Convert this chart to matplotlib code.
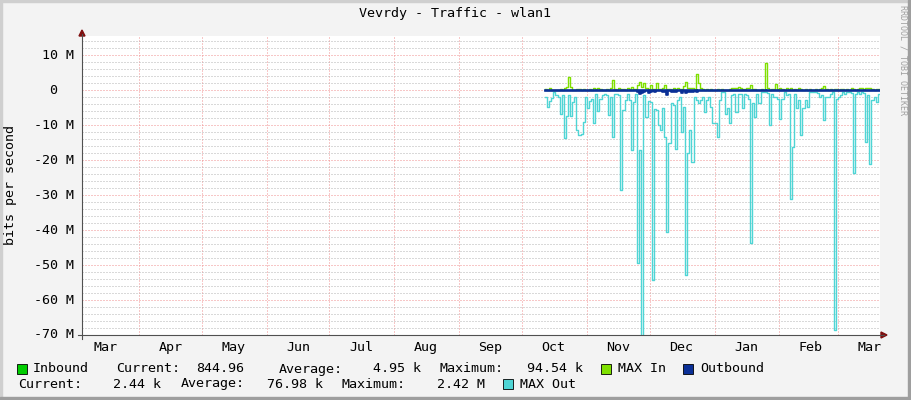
import datetime as dt
import numpy as np
import matplotlib
matplotlib.use("Agg")
import matplotlib.pyplot as plt
import matplotlib.dates as mdates
import matplotlib.transforms as mtransforms
from matplotlib.patches import Rectangle, Polygon
from matplotlib.lines import Line2D

# --- data (Mbit/s, one sample per day starting 12 Oct) ---
first_day = dt.datetime(2012, 10, 12)

max_out = [
    -2.0, -4.8, -3.0, -2.3, -0.6, -1.3, -2.0, -6.7, -1.5, -13.8,
    -7.5, -1.5, -7.5, -3.5, -2.0, -11.4, -12.9, -12.5, -9.0, -2.0,
    -5.0, -3.0, -2.5, -9.5, -1.0, -6.0, -2.4, -1.4, -1.0, -1.5,
    -7.0, -2.0, -13.3, -1.0, -1.0, -1.5, -28.6, -5.7, -2.8, -1.0,
    -2.8, -17.0, -3.3, -1.0, -49.5, -17.0, -70.5, -1.5, -7.6, -3.0,
    -3.3, -54.3, -5.5, -5.7, -10.0, -11.4, -5.2, -13.3, -40.5, -15.2,
    -3.8, -4.3, -16.7, -2.9, -1.9, -11.9, -4.8, -52.9, -18.0, -11.4,
    -20.5, -1.9, -2.9, -3.8, -2.9, -1.9, -6.2, -2.9, -1.9, -4.8,
    -9.5, -9.5, -13.3, -2.9, -0.5, -0.5, -6.7, -5.2, -9.3, -1.4,
    -1.0, -6.2, -1.0, -1.0, -5.2, -1.0, -1.4, -2.4, -43.6, -3.8,
    -7.6, -1.0, -3.8, -0.5, -0.5, -0.5, -0.8, -10.0, -1.0, -1.9,
    -1.9, -2.4, -8.1, -2.4, -0.5, -1.4, -1.0, -31.0, -16.2, -1.0,
    -5.2, -2.9, -12.9, -5.2, -2.9, -4.8, -0.5, -0.5, -0.5, -0.5,
    -0.8, -1.9, -1.4, -8.6, -1.9, -1.9, -1.0, -0.5, -68.6, -2.4,
    -1.9, -1.4, -0.5, -1.0, -0.5, -0.5, -0.8, -23.8, -1.0, -0.5,
    -1.0, -0.5, -0.8, -14.8, -1.4, -21.0, -2.9, -1.9, -3.3, -1.0,
]

max_in = [
    0.3, 0.2, 0.5, 0.2, 0.1, 0.2, 0.2, 0.3, 0.2, 0.6,
    0.8, 3.8, 0.9, 0.2, 0.1, 0.3, 0.3, 0.2, 0.4, 0.2,
    0.2, 0.3, 0.1, 0.5, 0.3, 0.5, 0.3, 0.2, 0.2, 0.3,
    0.2, 0.5, 2.9, 0.4, 0.2, 0.6, 0.3, 0.3, 0.2, 0.6,
    0.4, 0.8, 0.3, 0.3, 1.5, 2.4, 1.0, 2.2, 0.5, 0.3,
    1.4, 0.4, 0.3, 2.0, 0.4, 0.3, 0.5, 1.4, 0.4, 0.3,
    0.2, 0.5, 0.4, 0.6, 0.3, 0.4, 1.2, 2.3, 0.7, 0.5,
    0.6, 0.4, 4.6, 2.0, 0.5, 0.3, 0.2, 0.3, 0.2, 0.3,
    0.1, 0.2, 0.3, 0.2, 0.3, 0.2, 0.2, 0.2, 0.3, 0.5,
    0.5, 0.6, 0.8, 0.5, 0.3, 0.4, 0.5, 0.6, 1.4, 0.3,
    0.4, 0.2, 0.2, 0.3, 0.2, 7.8, 0.5, 0.2, 0.3, 0.3,
    1.9, 0.4, 0.6, 0.3, 0.2, 0.5, 0.3, 0.6, 0.2, 0.3,
    0.2, 0.6, 0.3, 0.2, 0.3, 0.2, 0.3, 0.2, 0.2, 0.3,
    0.2, 0.3, 0.5, 1.1, 0.4, 0.2, 0.3, 0.2, 0.4, 0.3,
    0.2, 0.4, 0.3, 0.2, 0.3, 0.2, 0.6, 0.3, 0.2, 0.3,
    0.5, 0.7, 0.4, 0.6, 0.7, 0.6, 0.3, 0.2, 0.4, 0.3,
]

outbound = [
    -0.1, -0.1, -0.2, -0.1, -0.1, -0.1, -0.1, -0.2, -0.1, -0.1,
    -0.1, -0.2, -0.1, -0.1, -0.1, -0.1, -0.2, -0.1, -0.1, -0.1,
    -0.1, -0.1, -0.1, -0.1, -0.1, -0.1, -0.1, -0.1, -0.1, -0.1,
    -0.1, -0.1, -0.2, -0.1, -0.1, -0.1, -0.3, -0.1, -0.1, -0.1,
    -0.2, -0.3, -0.1, -0.2, -0.6, -1.2, -0.8, -0.5, -0.3, -0.9,
    -0.4, -0.3, -0.6, -0.3, -0.2, -0.3, -0.5, -0.4, -1.4, -0.3,
    -0.6, -0.5, -0.4, -0.2, -0.3, -0.7, -0.3, -0.8, -0.5, -0.4,
    -0.6, -0.3, -0.4, -0.2, -0.1, -0.1, -0.1, -0.1, -0.1, -0.1,
    -0.1, -0.1, -0.2, -0.1, -0.1, -0.1, -0.1, -0.1, -0.2, -0.1,
    -0.1, -0.1, -0.1, -0.1, -0.1, -0.1, -0.1, -0.1, -0.3, -0.1,
    -0.1, -0.1, -0.1, -0.1, -0.1, -0.1, -0.1, -0.1, -0.1, -0.1,
    -0.1, -0.1, -0.2, -0.1, -0.1, -0.1, -0.1, -0.2, -0.2, -0.1,
    -0.1, -0.1, -0.2, -0.1, -0.1, -0.1, -0.1, -0.1, -0.1, -0.1,
    -0.1, -0.1, -0.1, -0.1, -0.1, -0.1, -0.1, -0.1, -0.2, -0.1,
    -0.1, -0.1, -0.1, -0.1, -0.1, -0.1, -0.1, -0.2, -0.1, -0.1,
    -0.1, -0.1, -0.1, -0.2, -0.1, -0.2, -0.1, -0.1, -0.1, -0.1,
]

inbound = [
    0.03, 0.02, 0.05, 0.02, 0.01, 0.02, 0.02, 0.03, 0.02, 0.05,
    0.06, 0.20, 0.06, 0.02, 0.01, 0.03, 0.03, 0.02, 0.03, 0.02,
    0.02, 0.03, 0.01, 0.04, 0.03, 0.04, 0.03, 0.02, 0.02, 0.03,
    0.02, 0.04, 0.15, 0.03, 0.02, 0.05, 0.03, 0.03, 0.02, 0.05,
    0.03, 0.06, 0.03, 0.03, 0.10, 0.15, 0.08, 0.12, 0.04, 0.03,
    0.09, 0.03, 0.03, 0.12, 0.03, 0.03, 0.04, 0.09, 0.03, 0.03,
    0.02, 0.04, 0.03, 0.05, 0.03, 0.03, 0.08, 0.14, 0.05, 0.04,
    0.05, 0.03, 0.25, 0.12, 0.04, 0.03, 0.02, 0.03, 0.02, 0.03,
    0.01, 0.02, 0.03, 0.02, 0.03, 0.02, 0.02, 0.02, 0.03, 0.04,
    0.04, 0.05, 0.06, 0.04, 0.03, 0.03, 0.04, 0.05, 0.09, 0.03,
    0.03, 0.02, 0.02, 0.03, 0.02, 0.40, 0.04, 0.02, 0.03, 0.03,
    0.12, 0.03, 0.05, 0.03, 0.02, 0.04, 0.03, 0.05, 0.02, 0.03,
    0.02, 0.05, 0.03, 0.02, 0.03, 0.02, 0.03, 0.02, 0.02, 0.03,
    0.02, 0.03, 0.04, 0.08, 0.03, 0.02, 0.03, 0.02, 0.03, 0.03,
    0.02, 0.03, 0.03, 0.02, 0.03, 0.02, 0.05, 0.03, 0.02, 0.03,
    0.04, 0.05, 0.03, 0.05, 0.05, 0.05, 0.03, 0.02, 0.03, 0.01,
]

y_major = [10, 0, -10, -20, -30, -40, -50, -60, -70]
y_labels = ["10 M", "0", "-10 M", "-20 M", "-30 M", "-40 M", "-50 M", "-60 M", "-70 M"]

title = "Vevrdy - Traffic - wlan1"
y_title = "bits per second"

legend_row1 = [("Inbound", "844.96", "4.95 k", "94.54 k")]
legend_row2 = [("2.44 k", "76.98 k", "2.42 M")]

c_in = "#00cc00"
c_maxin = "#7fe000"
c_out = "#0a2f96"
c_maxout = "#4fd5d5"

# --- figure ---
W, H = 911, 400
fig = plt.figure(figsize=(W / 100, H / 100), dpi=100, facecolor="#f3f3f3")
plt.rcParams["font.family"] = ["DejaVu Sans Mono"]
FS = 9.6


def px(x, y):
    return x / W, 1 - y / H


ax = fig.add_axes([82 / W, 65 / H, 798 / W, 299 / H])
ax.set_facecolor("white")
for s in ax.spines.values():
    s.set_visible(False)

x_start = dt.datetime(2012, 3, 4, 18, 30)
x_end = x_start + dt.timedelta(days=381.3)
ax.set_xlim(x_start, x_end)
ax.set_ylim(-70, 15.5)

n = len(max_out)
edges = [first_day + dt.timedelta(days=i) for i in range(n + 1)]


def ext(v):
    return np.append(np.array(v, dtype=float), v[-1])


ax.step(edges, ext(max_out), where="post", color=c_maxout, lw=1.0, zorder=3)
ax.step(edges, ext(max_in), where="post", color=c_maxin, lw=1.0, zorder=4)
ax.fill_between(edges, ext(inbound), 0, step="post", color=c_in, lw=0, zorder=5)
ax.fill_between(edges, ext(outbound), 0, step="post", color=c_out, lw=0, zorder=6)
ax.step(edges, ext(outbound), where="post", color=c_out, lw=1.2, zorder=6)
ax.plot([edges[0], edges[-1]], [0, 0], color=c_out, lw=1.2, zorder=6)

# grid
ax.set_yticks(y_major)
ax.set_yticks(np.arange(-70, 16, 2), minor=True)
ax.xaxis.set_major_locator(mdates.MonthLocator())
ax.xaxis.set_minor_locator(mdates.MonthLocator(bymonthday=16))
ax.xaxis.set_major_formatter(plt.NullFormatter())
ax.xaxis.set_minor_formatter(mdates.DateFormatter("%b"))
ax.tick_params(axis="x", which="both", length=0, pad=4.5, labelsize=FS)
ax.tick_params(axis="y", which="both", length=0, labelleft=False)
dots = (0, (1, 2))
ax.grid(which="minor", axis="y", color="#b4b4b4", lw=0.72, ls=dots, zorder=0)
ax.grid(which="major", axis="y", color="#f09090", lw=0.72, ls=dots, zorder=1)
ax.grid(which="major", axis="x", color="#f09090", lw=0.72, ls=dots, zorder=1)
ax.set_axisbelow(True)

# y tick labels, rrdtool style (unit column kept for "0")
trans = mtransforms.blended_transform_factory(ax.transAxes, ax.transData)
for v, lab in zip(y_major, y_labels):
    xr = (74 - 82) / 798 if lab != "0" else (57 - 82) / 798
    ax.text(xr, v, lab, transform=trans, ha="right", va="center", fontsize=FS)

# axes lines and arrows
ax_col = "#505050"
arr_col = "#7f1010"
fig.add_artist(Line2D(*zip(px(82, 339), px(82, 34)), color=ax_col, lw=0.8))
fig.add_artist(Line2D(*zip(px(78, 335), px(884, 335)), color=ax_col, lw=0.8))
fig.add_artist(Polygon([px(79, 36), px(85, 36), px(82, 30)], closed=True,
                       color=arr_col, transform=fig.transFigure))
fig.add_artist(Polygon([px(881, 332), px(881, 338), px(887, 335)], closed=True,
                       color=arr_col, transform=fig.transFigure))

# titles
fig.text(*px(455, 14), title, ha="center", va="center", fontsize=FS)
fig.text(*px(11, 185), y_title, ha="center", va="center", rotation=90, fontsize=FS)
fig.text(*px(903, 5), "RRDTOOL / TOBI OETIKER", ha="center", va="top",
         rotation=270, fontsize=6, color="#a0a0a0")


# legend
def swatch(x, y, c):
    fig.add_artist(Rectangle(px(x, y + 10), 10 / W, 10 / H, facecolor=c,
                             edgecolor="black", lw=0.6, transform=fig.transFigure))


name, cur, avg, mx = legend_row1[0]
y1 = 369
swatch(17, y1 - 5, c_in)
fig.text(*px(33, y1), name, va="center", fontsize=FS)
fig.text(*px(116, y1), "Current:", va="center", fontsize=FS)
fig.text(*px(244, y1), cur, va="center", ha="right", fontsize=FS)
fig.text(*px(279, y1), "Average:", va="center", fontsize=FS)
fig.text(*px(421, y1), avg, va="center", ha="right", fontsize=FS)
fig.text(*px(440, y1), "Maximum:", va="center", fontsize=FS)
fig.text(*px(583, y1), mx, va="center", ha="right", fontsize=FS)
swatch(601, y1 - 5, c_maxin)
fig.text(*px(618, y1), "MAX In", va="center", fontsize=FS)
swatch(683, y1 - 5, c_out)
fig.text(*px(700, y1), "Outbound", va="center", fontsize=FS)

cur, avg, mx = legend_row2[0]
y2 = 384
fig.text(*px(18, y2), "Current:", va="center", fontsize=FS)
fig.text(*px(161, y2), cur, va="center", ha="right", fontsize=FS)
fig.text(*px(181, y2), "Average:", va="center", fontsize=FS)
fig.text(*px(323, y2), avg, va="center", ha="right", fontsize=FS)
fig.text(*px(342, y2), "Maximum:", va="center", fontsize=FS)
fig.text(*px(485, y2), mx, va="center", ha="right", fontsize=FS)
swatch(503, y2 - 5, c_maxout)
fig.text(*px(520, y2), "MAX Out", va="center", fontsize=FS)

# frame shading
fig.add_artist(Rectangle((0, 1 - 2 / H), 1, 2 / H, color="#cfcfcf", transform=fig.transFigure))
fig.add_artist(Rectangle((0, 0), 2 / W, 1, color="#cfcfcf", transform=fig.transFigure))
fig.add_artist(Rectangle((0, 0), 1, 3 / H, color="#9e9e9e", transform=fig.transFigure))
fig.add_artist(Rectangle((1 - 3 / W, 0), 3 / W, 1, color="#9e9e9e", transform=fig.transFigure))

fig.savefig("out.png", dpi=100, facecolor=fig.get_facecolor())
